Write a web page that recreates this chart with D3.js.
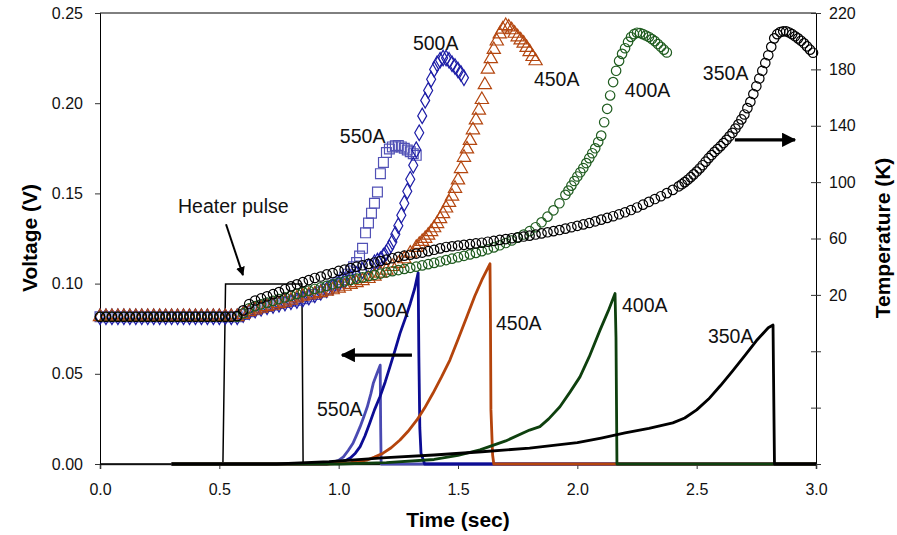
<!DOCTYPE html>
<html>
<head>
<meta charset="utf-8">
<script src="https://cdn.jsdelivr.net/npm/d3@7"></script>
<style>
	body { margin: 0; background: #fff; }
	svg { font-family: "Liberation Sans", Arial, sans-serif; }
</style>
</head>
<body>
<svg id="chart" width="897" height="535"></svg>
<script>

/* --------------------- Data ---------------------- */

// sample times (sec) shared by the temperature series
const timeGrid = [
	0.000, 0.025, 0.050, 0.075, 0.100, 0.125, 0.150, 0.175, 0.200, 0.225,
	0.250, 0.275, 0.300, 0.325, 0.350, 0.375, 0.400, 0.425, 0.450, 0.475,
	0.500, 0.525, 0.550, 0.575, 0.600, 0.625, 0.650, 0.675, 0.700, 0.725,
	0.750, 0.775, 0.800, 0.825, 0.850, 0.875, 0.900, 0.925, 0.950, 0.975,
	1.000, 1.025, 1.050, 1.075, 1.100, 1.125, 1.150, 1.175, 1.200, 1.225,
	1.250, 1.275, 1.300, 1.325, 1.350, 1.375, 1.400, 1.425, 1.450, 1.475,
	1.500, 1.525, 1.550, 1.575, 1.600, 1.625, 1.650, 1.675, 1.700, 1.725,
	1.750, 1.775, 1.800, 1.825, 1.850, 1.875, 1.900, 1.925, 1.950, 1.975,
	2.000, 2.025, 2.050, 2.075, 2.100, 2.125, 2.150, 2.175, 2.200, 2.225,
	2.250, 2.275, 2.300, 2.325, 2.350, 2.375, 2.400, 2.425, 2.450, 2.475,
	2.500, 2.525, 2.550, 2.575, 2.600, 2.625, 2.650, 2.675, 2.700, 2.725,
	2.750, 2.775, 2.800, 2.825, 2.850, 2.875, 2.900, 2.925, 2.950, 2.975
];

// temperature (K), one value per timeGrid entry
const temp550 = [
	4.5, 4.5, 4.5, 4.5, 4.5, 4.5, 4.5, 4.5, 4.5, 4.5,
	4.5, 4.5, 4.5, 4.5, 4.5, 4.5, 4.5, 4.5, 4.5, 4.5,
	4.5, 4.5, 4.5, 4.5, 6, 8, 9.5, 10.8, 11.8, 12.8,
	13.8, 14.6, 15.4, 16.2, 17.2, 18.6, 20.2, 22, 24, 26.4,
	29, 32.5, 37, 43, 53, 71, 85, 106, 121, 125,
	126, 124, 121.5, 119
];
const temp500 = [
	4.5, 4.5, 4.5, 4.5, 4.5, 4.5, 4.5, 4.5, 4.5, 4.5,
	4.5, 4.5, 4.5, 4.5, 4.5, 4.5, 4.5, 4.5, 4.5, 4.5,
	4.5, 4.5, 4.5, 4.5, 6, 8, 9.3, 10.5, 11.5, 12.5,
	13.4, 14.3, 15.2, 16, 17, 18.5, 20, 21.8, 23.6, 25.6,
	27.7, 29.8, 32, 34.5, 37.2, 40, 42.8, 45, 50, 57.5,
	69, 85, 102, 123, 147, 165, 180, 186.5, 188, 184,
	179.5, 174
];
const temp450 = [
	4.5, 4.5, 4.5, 4.5, 4.5, 4.5, 4.5, 4.5, 4.5, 4.5,
	4.5, 4.5, 4.5, 4.5, 4.5, 4.5, 4.5, 4.5, 4.5, 4.5,
	4.5, 4.5, 4.5, 4.5, 6, 8, 9.3, 10.5, 11.5, 12.5,
	13.6, 14.8, 16.2, 17.8, 19, 19.8, 20.6, 21.5, 22.5, 23.5,
	24.7, 26, 27.3, 28.6, 30, 31.5, 33.2, 35.3, 37.5, 40,
	42.2, 45.5, 49.5, 53.6, 57.8, 62.3, 67.5, 74, 81.5, 90,
	101.5, 117.5, 129.5, 144, 158.5, 180, 194, 205, 211, 208,
	203, 198.5, 192.5, 186
];
const temp400 = [
	4.5, 4.5, 4.5, 4.5, 4.5, 4.5, 4.5, 4.5, 4.5, 4.5,
	4.5, 4.5, 4.5, 4.5, 4.5, 4.5, 4.5, 4.5, 4.5, 4.5,
	4.5, 4.5, 4.5, 4.5, 7, 10.5, 12, 13.3, 14.5, 15.7,
	17, 18.2, 19.5, 20.7, 22, 23, 24.2, 25.3, 26.4, 27.5,
	28.6, 29.6, 30.6, 31.5, 32.4, 33.3, 34.2, 35.1, 36, 36.8,
	37.6, 38.4, 39.2, 40, 40.9, 41.8, 42.7, 43.7, 44.7, 45.7,
	46.7, 47.7, 48.7, 49.8, 51, 52.3, 53.7, 55.2, 56.8, 58.6,
	60.6, 62.8, 65.2, 68, 71.5, 75.5, 80, 85, 91, 97.5,
	104, 110, 117, 124, 133, 152, 171, 186, 195, 203,
	206, 205, 203, 200, 196, 192
];
const temp350 = [
	4.5, 4.5, 4.5, 4.5, 4.5, 4.5, 4.5, 4.5, 4.5, 4.5,
	4.5, 4.5, 4.5, 4.5, 4.5, 4.5, 4.5, 4.5, 4.5, 4.5,
	4.5, 4.5, 4.5, 5, 9, 13.5, 16, 17.5, 19, 20.5,
	22, 24, 26, 27.5, 29, 30.5, 32, 33, 34.5, 35.5,
	37, 38, 39, 40, 41, 42, 43, 44, 45, 46,
	47, 47.8, 48.5, 49.3, 50, 51, 52, 53, 54, 54.5,
	55, 55.5, 56, 56.5, 57, 57.7, 58.3, 59, 59.6, 60.2,
	60.8, 61.4, 62, 62.8, 63.6, 64.4, 65.2, 66, 67, 68,
	69, 70, 71, 72.2, 73.4, 74.6, 75.8, 77.2, 78.6, 80.2,
	82, 84, 86, 88, 90, 92.2, 94.5, 97, 100, 103.5,
	107.5, 112, 117, 121.5, 125.5, 130, 135, 141, 148, 157,
	168, 179, 190, 202, 206.5, 207, 205, 202, 198.5, 194
];

// extra in-between samples where the temperature climbs fast, [time, K]
const temp550Mid = [[0.9875, 27.7], [1.0125, 30.7], [1.0375, 34.7], [1.0625, 40], [1.0875, 47.5],
	[1.1125, 64], [1.1375, 78], [1.1625, 93], [1.1875, 114], [1.2125, 123.5], [1.2375, 125.8],
	[1.2625, 125], [1.2875, 122.8], [1.3125, 120.2]];
const temp500Mid = [[1.1625, 44], [1.1875, 47.5], [1.2125, 53.5], [1.2375, 63], [1.2625, 76.5],
	[1.2875, 93.5], [1.3125, 112], [1.3375, 135], [1.3625, 158], [1.3875, 173], [1.4125, 184],
	[1.4375, 188], [1.4625, 186.5], [1.4875, 182], [1.5125, 177]];
const temp450Mid = [[1.3375, 55.7], [1.3625, 60], [1.3875, 64.8], [1.4125, 70.5], [1.4375, 77.5],
	[1.4625, 85.5], [1.4875, 95.5], [1.5125, 109.5], [1.5375, 123.5], [1.5625, 137], [1.5875, 151],
	[1.6125, 169], [1.6375, 187.5], [1.6625, 200], [1.6875, 208.5], [1.7125, 210], [1.7375, 205.5],
	[1.7625, 200.8], [1.7875, 195.5], [1.8125, 189]];
const temp400Mid = [[1.9625, 94], [1.9875, 100.8], [2.0125, 107], [2.0375, 113.5], [2.0625, 120.5],
	[2.0875, 128.5], [2.1125, 142.5], [2.1375, 161.5], [2.1625, 179], [2.1875, 191], [2.2125, 199.5],
	[2.2375, 205], [2.2625, 205.8], [2.2875, 204], [2.3125, 201.5], [2.3375, 198], [2.3625, 194]];
const temp350Mid = [[2.4375, 98.5], [2.4625, 101.7], [2.4875, 105.5], [2.5125, 109.7], [2.5375, 114.5],
	[2.5625, 119.2], [2.5875, 123.5], [2.6125, 127.7], [2.6375, 132.5], [2.6625, 138], [2.6875, 144.5],
	[2.7125, 152.5], [2.7375, 162.5], [2.7625, 173.5], [2.7875, 184.5], [2.8125, 196], [2.8375, 205],
	[2.8625, 207], [2.8875, 206.2], [2.9125, 203.5], [2.9375, 200.3], [2.9625, 196.3], [2.9875, 191.8]];

// voltage traces, [time (sec), voltage (V)]
const volt550 = [[0.3, 0], [0.95, 0], [1.0, 0.002], [1.02, 0.004], [1.04, 0.0075], [1.06, 0.0115],
	[1.075, 0.016], [1.09, 0.0207], [1.105, 0.026], [1.12, 0.0317], [1.135, 0.039], [1.145, 0.0447],
	[1.16, 0.05], [1.174, 0.0548], [1.176, 0.02], [1.178, 0], [3.0, 0]];
const volt500 = [[0.3, 0], [0.95, 0], [1.0, 0.001], [1.03, 0.002], [1.05, 0.0035], [1.07, 0.006],
	[1.09, 0.0096], [1.11, 0.0155], [1.13, 0.0226], [1.15, 0.03], [1.173, 0.0373], [1.195, 0.0455],
	[1.215, 0.054], [1.236, 0.063], [1.257, 0.0724], [1.28, 0.081], [1.3, 0.089], [1.318, 0.097],
	[1.333, 0.106], [1.336, 0.06], [1.34, 0.02], [1.345, 0.006], [1.36, 0], [3.0, 0]];
const volt450 = [[0.3, 0], [0.95, 0], [1.05, 0.0008], [1.12, 0.0022], [1.15, 0.0038], [1.186, 0.006],
	[1.22, 0.009], [1.257, 0.0133], [1.29, 0.018], [1.328, 0.0244], [1.36, 0.031], [1.395, 0.0392],
	[1.43, 0.048], [1.466, 0.0576], [1.5, 0.069], [1.537, 0.0816], [1.57, 0.093], [1.6, 0.102],
	[1.634, 0.111], [1.636, 0.08], [1.638, 0.03], [1.645, 0.005], [1.65, 0], [3.0, 0]];
const volt400 = [[0.3, 0], [1.0, 0], [1.2, 0.0008], [1.4, 0.0025], [1.5, 0.0048], [1.592, 0.0078],
	[1.7, 0.0128], [1.8, 0.0188], [1.843, 0.0207], [1.88, 0.025], [1.927, 0.0317], [1.97, 0.04],
	[2.011, 0.0483], [2.05, 0.0595], [2.095, 0.0742], [2.13, 0.085], [2.158, 0.0945], [2.162, 0.07],
	[2.166, 0], [3.0, 0]];
const volt350 = [[0.3, 0], [0.74, 0], [0.96, 0.0013], [1.2, 0.0035], [1.4, 0.005], [1.6, 0.0068],
	[1.8, 0.0088], [2.0, 0.0118], [2.1, 0.0144], [2.2, 0.0172], [2.3, 0.0198], [2.4, 0.0228],
	[2.45, 0.0255], [2.5, 0.03], [2.55, 0.036], [2.6, 0.0435], [2.65, 0.0515], [2.7, 0.0598],
	[2.75, 0.0683], [2.8, 0.0755], [2.82, 0.077], [2.822, 0.05], [2.826, 0], [3.0, 0]];
const heaterPulse = [[0, 0], [0.515, 0], [0.526, 0.0998], [0.846, 0.0998], [0.851, 0], [3.0, 0]];

const currents = ['550A', '500A', '450A', '400A', '350A'];
const voltTicks = [0, 0.05, 0.10, 0.15, 0.20, 0.25];
const tempTicks = [-100, -60, -20, 20, 60, 100, 140, 180, 220];
const timeTicks = [0, 0.5, 1.0, 1.5, 2.0, 2.5, 3.0];

/* --------------------- Layout ---------------------- */

let plot = {left: 100, right: 816, top: 13, bottom: 464};

let svg = d3.select('#chart');

let x = d3.scaleLinear().domain([0, 3]).range([plot.left, plot.right]);
let yV = d3.scaleLinear().domain([0, 0.25]).range([plot.bottom, plot.top]);
let yT = d3.scaleLinear().domain([-100, 220]).range([plot.bottom, plot.top]);

// marker and line styles, one entry per current
let styles = {
	'550A': {marker: '#5252b6', line: '#4a4ab2', symbol: d3.symbolSquare, size: 96},
	'500A': {marker: '#1c1ca6', line: '#0c0c94', symbol: d3.symbolDiamond, size: 70},
	'450A': {marker: '#b4460f', line: '#b4440c', symbol: d3.symbolTriangle, size: 76},
	'400A': {marker: '#1f5c1f', line: '#0e400e', symbol: d3.symbolCircle, size: 70},
	'350A': {marker: '#000000', line: '#000000', symbol: d3.symbolCircle, size: 70}
};
let tempData = {'550A': temp550, '500A': temp500, '450A': temp450, '400A': temp400, '350A': temp350};
let tempMid = {'550A': temp550Mid, '500A': temp500Mid, '450A': temp450Mid, '400A': temp400Mid, '350A': temp350Mid};
let voltData = {'550A': volt550, '500A': volt500, '450A': volt450, '400A': volt400, '350A': volt350};

/* --------------------- Axes ---------------------- */

// frame top
svg.append('line')
	.attr('x1', plot.left).attr('x2', plot.right)
	.attr('y1', plot.top).attr('y2', plot.top)
	.attr('stroke', '#000').attr('stroke-width', 1);

let leftAxis = svg.append('g')
	.attr('transform', 'translate(' + plot.left + ',0)')
	.call(d3.axisLeft(yV).tickValues(voltTicks).tickFormat(d3.format('.2f'))
		.tickSizeOuter(0).tickSize(5).tickPadding(12));

let rightAxis = svg.append('g')
	.attr('transform', 'translate(' + plot.right + ',0)')
	.call(d3.axisRight(yT).tickValues(tempTicks).tickFormat(d => d >= 20 ? d : '')
		.tickSizeOuter(0).tickSize(5).tickPadding(8));
rightAxis.selectAll('.tick line').attr('x1', -5).attr('x2', 5);

let bottomAxis = svg.append('g')
	.attr('transform', 'translate(0,' + plot.bottom + ')')
	.call(d3.axisBottom(x).tickValues(timeTicks).tickFormat(d3.format('.1f'))
		.tickSizeOuter(0).tickSize(5).tickPadding(15));
bottomAxis.select('.domain').attr('stroke', '#444').attr('stroke-width', 1.6);

[leftAxis, rightAxis, bottomAxis].forEach(function(g) {
	g.selectAll('text').attr('font-size', 16).attr('fill', '#111')
		.attr('font-family', '"Liberation Sans", Arial, sans-serif');
	g.selectAll('.tick line').attr('stroke', '#333');
});

// axis titles
svg.append('text')
	.attr('transform', 'translate(37,238) rotate(-90)')
	.attr('text-anchor', 'middle').attr('font-size', 21).attr('font-weight', 'bold')
	.text('Voltage (V)');
svg.append('text')
	.attr('transform', 'translate(890,238) rotate(-90)')
	.attr('text-anchor', 'middle').attr('font-size', 21).attr('font-weight', 'bold')
	.text('Temperature (K)');
svg.append('text')
	.attr('x', (plot.left + plot.right) / 2).attr('y', 527)
	.attr('text-anchor', 'middle').attr('font-size', 21).attr('font-weight', 'bold')
	.text('Time (sec)');

/* --------------------- Voltage lines ---------------------- */

let voltLine = d3.line().x(d => x(d[0])).y(d => yV(d[1]));

svg.append('path')
	.datum(heaterPulse)
	.attr('d', voltLine)
	.attr('fill', 'none').attr('stroke', '#000').attr('stroke-width', 1.5);

currents.forEach(function(c) {
	svg.append('path')
		.datum(voltData[c])
		.attr('d', voltLine)
		.attr('fill', 'none')
		.attr('stroke', styles[c].line)
		.attr('stroke-width', 2.8)
		.attr('stroke-linejoin', 'round');
});

/* --------------------- Temperature markers ---------------------- */

currents.forEach(function(c) {
	let pts = tempData[c].map((v, i) => [timeGrid[i], v]).concat(tempMid[c]);
	pts.sort((a, b) => a[0] - b[0]);
	let sym = d3.symbol().type(styles[c].symbol).size(styles[c].size);
	svg.append('g').selectAll('path')
		.data(pts)
		.enter().append('path')
		.attr('transform', d => 'translate(' + x(d[0]) + ',' + yT(d[1]) + ')')
		.attr('d', sym)
		.attr('fill', 'none')
		.attr('stroke', styles[c].marker)
		.attr('stroke-width', 1.2);
});

/* --------------------- Labels and arrows ---------------------- */

let tempLabels = [
	{text: '550A', t: 1.005, v: 127.9},
	{text: '500A', t: 1.311, v: 194},
	{text: '450A', t: 1.818, v: 168.4},
	{text: '400A', t: 2.199, v: 160.6},
	{text: '350A', t: 2.526, v: 172.7}
];
let voltLabels = [
	{text: '550A', t: 0.909, v: 0.0266},
	{text: '500A', t: 1.102, v: 0.0814},
	{text: '450A', t: 1.659, v: 0.0742},
	{text: '400A', t: 2.187, v: 0.0842},
	{text: '350A', t: 2.547, v: 0.0670},
	{text: 'Heater pulse', t: 0.327, v: 0.139}
];

tempLabels.forEach(function(l) {
	svg.append('text').attr('x', x(l.t)).attr('y', yT(l.v))
		.attr('font-size', 19.5).attr('fill', '#111').text(l.text);
});
voltLabels.forEach(function(l) {
	svg.append('text').attr('x', x(l.t)).attr('y', yV(l.v))
		.attr('font-size', 19.5).attr('fill', '#111').text(l.text);
});

svg.append('defs').append('marker')
	.attr('id', 'head')
	.attr('viewBox', '0 0 10 10')
	.attr('refX', 9).attr('refY', 5)
	.attr('markerWidth', 4.5).attr('markerHeight', 4.5)
	.attr('orient', 'auto')
	.append('path').attr('d', 'M0,0 L10,5 L0,10 Z').attr('fill', '#000');

let arrows = [
	{x1: x(0.528), y1: yV(0.1329), x2: x(0.599), y2: yV(0.1047), w: 2},
	{x1: x(1.307), y1: yV(0.0604), x2: x(1.014), y2: yV(0.0604), w: 3.2},
	{x1: x(2.66), y1: yT(130), x2: x(2.912), y2: yT(130), w: 3.2}
];
arrows.forEach(function(a) {
	svg.append('line')
		.attr('x1', a.x1).attr('y1', a.y1).attr('x2', a.x2).attr('y2', a.y2)
		.attr('stroke', '#000').attr('stroke-width', a.w)
		.attr('marker-end', 'url(#head)');
});

</script>
</body>
</html>
